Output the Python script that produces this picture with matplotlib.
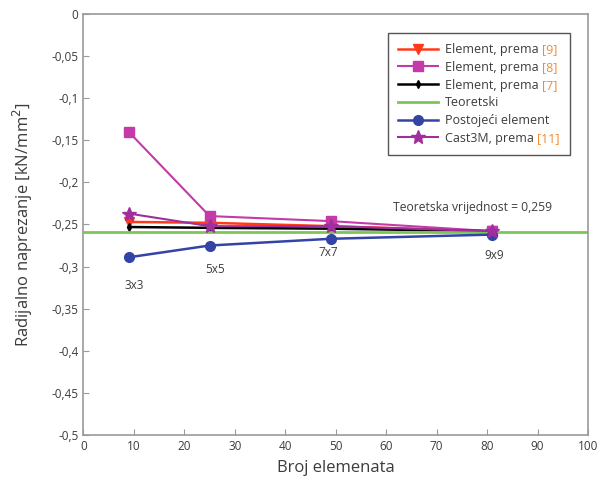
import matplotlib
matplotlib.use("Agg")
import matplotlib.pyplot as plt
from matplotlib.offsetbox import TextArea, HPacker

plt.rcParams['font.family'] = ['Open Sans', 'DejaVu Sans']

# number of elements for each mesh
n_el = [9, 25, 49, 81]
mesh_labels = ['3x3', '5x5', '7x7', '9x9']
mesh_label_pos = [(10, -0.322), (26, -0.304), (48.5, -0.283), (81.5, -0.287)]

# radial stress [kN/mm2]
el_9 = [-0.247, -0.248, -0.252, -0.258]
el_8 = [-0.140, -0.240, -0.246, -0.258]
el_7 = [-0.253, -0.254, -0.255, -0.258]
postojeci = [-0.289, -0.275, -0.267, -0.262]
cast3m = [-0.237, -0.252, -0.252, -0.258]
teoretski = -0.259

x_ticks = [0, 10, 20, 30, 40, 50, 60, 70, 80, 90, 100]
y_ticks = [0, -0.05, -0.1, -0.15, -0.2, -0.25, -0.3, -0.35, -0.4, -0.45, -0.5]
y_ticklabels = ['0', '-0,05', '-0,1', '-0,15', '-0,2', '-0,25', '-0,3',
                '-0,35', '-0,4', '-0,45', '-0,5']

grey = '#9a9a9a'
txt = '#3c3c3c'
ref_col = '#f28a2e'
fs_leg = 9

fig = plt.figure(figsize=(6, 4.88), dpi=100)
ax = fig.add_axes([0.139, 0.109, 0.841, 0.862])

ax.plot(n_el, el_9, '-v', color='#ff3a1c', lw=1.8, ms=7, label='Element, prema')
ax.plot(n_el, el_8, '-s', color='#c43aa8', lw=1.5, ms=7, label='Element, prema')
ax.plot(n_el, el_7, '-d', color='black', lw=1.8, ms=4, label='Element, prema')
ax.plot([0, 100], [teoretski, teoretski], '-', color='#7cc657', lw=2,
        label='Teoretski')
ax.plot(n_el, postojeci, '-o', color='#3444a6', lw=1.8, ms=7,
        label='Postojeći element')
ax.plot(n_el, cast3m, '-*', color='#a02f9c', lw=1.5, ms=10,
        label='Cast3M, prema')

for lab, (xp, yp) in zip(mesh_labels, mesh_label_pos):
    ax.text(xp, yp, lab, ha='center', va='center', fontsize=8.5, color=txt)
ax.text(61.3, -0.230, 'Teoretska vrijednost = 0,259', ha='left',
        va='center', fontsize=8.7, color=txt)

ax.set_xlim(0, 100)
ax.set_ylim(-0.5, 0)
ax.set_xticks(x_ticks)
ax.set_yticks(y_ticks)
ax.set_yticklabels(y_ticklabels)
ax.tick_params(direction='in', length=4, color=grey, labelcolor=txt,
               labelsize=8.5)
for sp in ax.spines.values():
    sp.set_color(grey)
    sp.set_linewidth(1.2)

ax.set_xlabel('Broj elemenata', fontsize=12, color=txt, labelpad=5)
ax.set_ylabel('Radijalno naprezanje [kN/mm$^2$]', fontsize=12, color=txt,
              labelpad=12)

leg = ax.legend(loc='upper right', bbox_to_anchor=(0.964, 0.955),
                borderaxespad=0, fontsize=fs_leg, fancybox=False,
                edgecolor='#555555', framealpha=1, handlelength=3.2,
                borderpad=0.8, labelspacing=0.38, handletextpad=0.6)
leg.get_frame().set_linewidth(1)

# orange reference numbers after the legend labels
refs = ['[9]', '[8]', '[7]', None, None, '[11]']
items = leg._legend_handle_box.get_children()[0].get_children()
for item, ref in zip(items, refs):
    tarea = item.get_children()[1]
    tarea._text.set_color(txt)
    if ref is None:
        continue
    label = tarea._text.get_text()
    new_box = HPacker(children=[
        TextArea(label + ' ', textprops=dict(color=txt, fontsize=fs_leg)),
        TextArea(ref, textprops=dict(color=ref_col, fontsize=fs_leg))],
        pad=0, sep=0, align='baseline')
    new_box.set_figure(fig)
    item._children[1] = new_box

fig.savefig('out.png', dpi=100)
